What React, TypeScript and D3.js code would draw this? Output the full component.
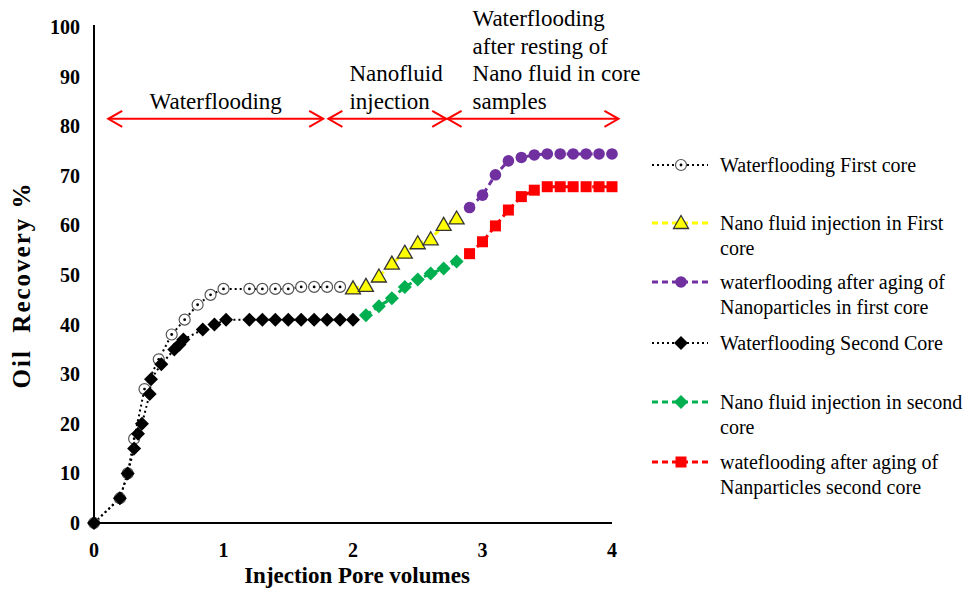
import React from "react";
import * as d3 from "d3";

// Injection pore volumes vs oil recovery (%)
const firstCoreWF = [
  [0, 0], [0.2, 5], [0.26, 10], [0.31, 17], [0.39, 27], [0.5, 33], [0.6, 38],
  [0.7, 41], [0.8, 44], [0.9, 46], [1.0, 47.2], [1.2, 47.2], [1.3, 47.2],
  [1.4, 47.2], [1.5, 47.2], [1.6, 47.6], [1.7, 47.6], [1.8, 47.6], [1.9, 47.6],
];
const firstCoreNano = [
  [2.0, 47.3], [2.1, 47.8], [2.2, 49.7], [2.3, 52.3], [2.4, 54.5],
  [2.5, 56.4], [2.6, 57.2], [2.7, 60.1], [2.8, 61.4],
];
const firstCoreAged = [
  [2.9, 63.6], [3.0, 66.1], [3.1, 70.2], [3.2, 73], [3.3, 73.7], [3.4, 74.2],
  [3.5, 74.4], [3.6, 74.4], [3.7, 74.4], [3.8, 74.4], [3.9, 74.4], [4.0, 74.4],
];
const secondCoreWF = [
  [0, 0], [0.2, 5], [0.26, 10], [0.31, 15], [0.34, 18], [0.37, 20], [0.43, 26],
  [0.44, 29], [0.52, 32], [0.62, 35], [0.66, 36], [0.69, 37], [0.84, 39],
  [0.93, 40], [1.02, 41], [1.2, 41], [1.3, 41], [1.4, 41], [1.5, 41], [1.6, 41],
  [1.7, 41], [1.8, 41], [1.9, 41], [2.0, 41],
];
const secondCoreNano = [
  [2.1, 41.9], [2.2, 43.7], [2.3, 45.3], [2.4, 47.6], [2.5, 49.1],
  [2.6, 50.3], [2.7, 51.3], [2.8, 52.7],
];
const secondCoreAged = [
  [2.9, 54.3], [3.0, 56.7], [3.1, 59.9], [3.2, 63.1], [3.3, 65.8], [3.4, 67.1],
  [3.5, 67.8], [3.6, 67.8], [3.7, 67.8], [3.8, 67.8], [3.9, 67.8], [4.0, 67.8],
];

const yTicks = [0, 10, 20, 30, 40, 50, 60, 70, 80, 90, 100];
const xTicks = [0, 1, 2, 3, 4];

const legendLabels = [
  ["Waterflooding First core"],
  ["Nano fluid injection in First", "core"],
  ["waterflooding after aging of", "Nanoparticles in first core"],
  ["Waterflooding Second Core"],
  ["Nano fluid injection in second", "core"],
  ["wateflooding after aging of", "Nanparticles second core"],
];

const stages = [
  { from: 0.11, to: 1.77, lines: ["Waterflooding"] },
  { from: 1.81, to: 2.72, lines: ["Nanofluid", "injection"] },
  { from: 2.73, to: 4.05, lines: ["Waterflooding", "after resting of", "Nano fluid in core", "samples"] },
];

const serif = "'Liberation Serif', 'Times New Roman', serif";

const series = [
  { data: firstCoreWF, color: "#000", dash: "2 3", width: 2, marker: "open" },
  { data: firstCoreNano, color: "#FFFF00", dash: "6 4", width: 3, marker: "triangle" },
  { data: firstCoreAged, color: "#7030A0", dash: "6 4", width: 3, marker: "circle" },
  { data: secondCoreWF, color: "#000", dash: "2 3", width: 2, marker: "diamond" },
  { data: secondCoreNano, color: "#00B050", dash: "6 4", width: 3, marker: "greenDiamond" },
  { data: secondCoreAged, color: "#FF0000", dash: "6 4", width: 3, marker: "square" },
];

function Marker({ kind, x, y }: { kind: string; x: number; y: number }) {
  const t = `translate(${x},${y})`;
  if (kind === "open")
    return (
      <g transform={t}>
        <circle r={5.5} fill="#fff" stroke="#555" strokeWidth={1.2} />
        <circle r={1.4} fill="#000" />
      </g>
    );
  if (kind === "triangle")
    return <path transform={t} d="M0,-7.5L7.5,5.5L-7.5,5.5Z" fill="#FFFF00" stroke="#333" strokeWidth={1.3} />;
  if (kind === "circle") return <circle cx={x} cy={y} r={5.8} fill="#7030A0" />;
  if (kind === "diamond") return <path transform={t} d="M0,-7L7,0L0,7L-7,0Z" fill="#000" />;
  if (kind === "greenDiamond") return <path transform={t} d="M0,-7L7,0L0,7L-7,0Z" fill="#00B050" />;
  return <rect x={x - 5.5} y={y - 5.5} width={11} height={11} fill="#FF0000" />;
}

export default function App() {
  const x = d3.scaleLinear().domain([0, 4]).range([94, 612]);
  const y = d3.scaleLinear().domain([0, 100]).range([523, 27]);
  const line = d3
    .line<number[]>()
    .x((d) => x(d[0]))
    .y((d) => y(d[1]));

  const arrowY = y(81.5);
  const legendRows = [165, 223, 282, 343, 402, 462];

  return (
    <svg
      width={976}
      height={595}
      style={{ position: "absolute", left: 0, top: 0, background: "#fff" }}
      fontFamily={serif}
    >
      {/* axes */}
      <line x1={x(0)} x2={x(0)} y1={y(100) - 2} y2={y(0)} stroke="#000" strokeWidth={2} />
      <line x1={x(0)} x2={x(4)} y1={y(0)} y2={y(0)} stroke="#000" strokeWidth={2} />
      {yTicks.map((t) => (
        <text key={t} x={80} y={y(t)} dy="0.35em" textAnchor="end" fontWeight="bold" fontSize={20}>
          {t}
        </text>
      ))}
      {xTicks.map((t) => (
        <text key={t} x={x(t)} y={557} textAnchor="middle" fontWeight="bold" fontSize={20}>
          {t}
        </text>
      ))}
      <text x={357} y={583} textAnchor="middle" fontWeight="bold" fontSize={23}>
        Injection Pore volumes
      </text>
      <text
        transform={`translate(30,${y(50) + 10}) rotate(-90)`}
        textAnchor="middle"
        fontWeight="bold"
        fontSize={25}
        letterSpacing={2}
        style={{ whiteSpace: "pre" }}
      >
        {"Oil  Recovery %"}
      </text>

      {/* stage arrows */}
      {stages.map((s, i) => {
        const x1 = x(s.from);
        const x2 = x(s.to);
        const n = s.lines.length;
        return (
          <g key={i} stroke="#FF0000" strokeWidth={2} fill="none">
            <line x1={x1} x2={x2} y1={arrowY} y2={arrowY} />
            <path d={`M${x1 + 14},${arrowY - 8}L${x1},${arrowY}L${x1 + 14},${arrowY + 8}`} />
            <path d={`M${x2 - 14},${arrowY - 8}L${x2},${arrowY}L${x2 - 14},${arrowY + 8}`} />
            {s.lines.map((l, j) => (
              <text
                key={j}
                x={i === 0 ? (x1 + x2) / 2 : x1 + (i === 1 ? 21 : 25)}
                y={arrowY - 10 - (n - 1 - j) * 27.5}
                textAnchor={i === 0 ? "middle" : "start"}
                fontSize={23}
                fill="#000"
                stroke="none"
              >
                {l}
              </text>
            ))}
          </g>
        );
      })}

      {/* series */}
      {series.map((s, i) => (
        <path
          key={i}
          d={line(s.data) || ""}
          fill="none"
          stroke={s.color}
          strokeWidth={s.width}
          strokeDasharray={s.dash}
        />
      ))}
      {series.map((s, i) => (
        <g key={i}>
          {s.data.map((d, j) => (
            <Marker key={j} kind={s.marker} x={x(d[0])} y={y(d[1])} />
          ))}
        </g>
      ))}

      {/* legend */}
      {series.map((s, i) => {
        const cy = legendRows[i];
        return (
          <g key={i}>
            <line
              x1={652}
              x2={708}
              y1={cy}
              y2={cy}
              stroke={s.color}
              strokeWidth={s.width}
              strokeDasharray={s.dash}
            />
            <Marker kind={s.marker} x={681} y={cy} />
            {legendLabels[i].map((l, j) => (
              <text key={j} x={720} y={cy + j * 25} dy="0.35em" fontSize={20}>
                {l}
              </text>
            ))}
          </g>
        );
      })}
    </svg>
  );
}
